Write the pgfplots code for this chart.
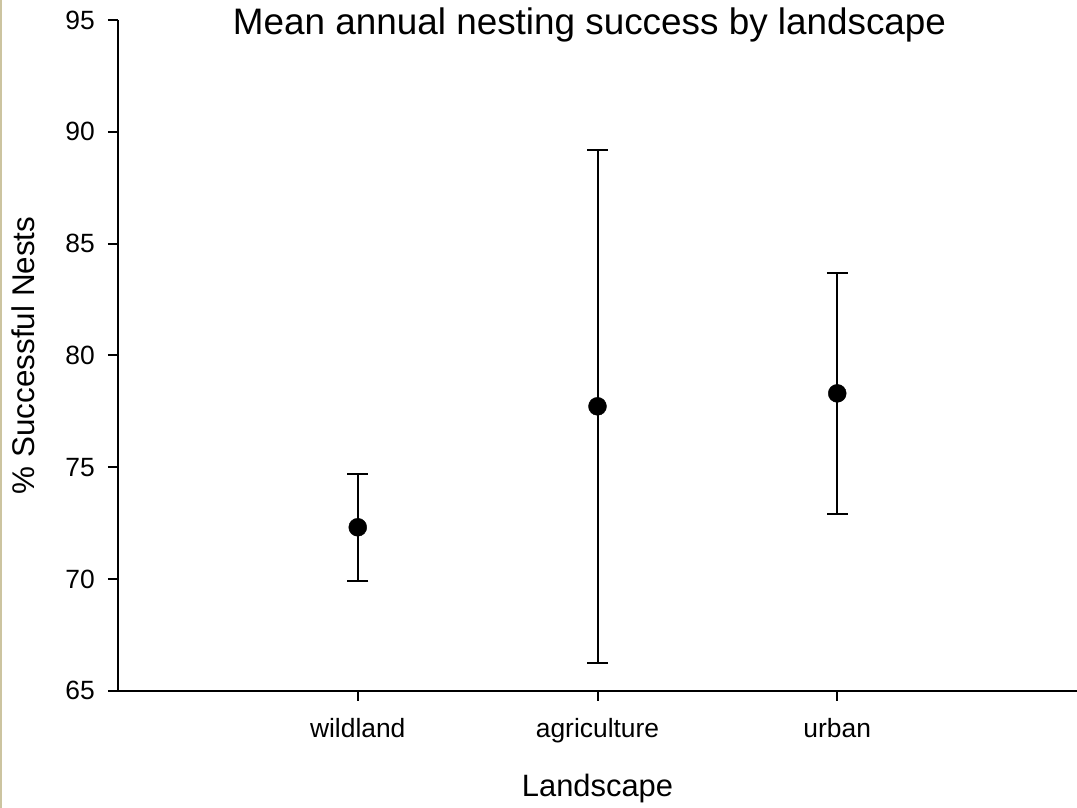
\documentclass[border=0pt]{standalone}
\usepackage{fontspec}
\setmainfont{Liberation Sans}
\usepackage{pgfplots}
\pgfplotsset{compat=1.18}
\definecolor{strip}{RGB}{204,196,160}
\begin{document}
\begin{tikzpicture}
\begin{axis}[
  at={(0,0)}, anchor=south west,
  scale only axis, width=959bp, height=670.7bp,
  xmin=0, xmax=4, ymin=65, ymax=95,
  axis lines=left,
  axis line style={-, line width=2bp, black},
  xtick={1,2,3}, xticklabels={wildland,agriculture,urban},
  ytick={65,70,75,80,85,90,95}, yticklabels={65,70,75,80,85,90,95},
  tick align=outside, major tick length=10bp,
  tick style={line width=2bp, black},
  ticklabel style={font=\fontsize{26.5}{30}\selectfont},
  yticklabel style={anchor=east, inner sep=0pt, xshift=-13bp},
  xticklabel style={anchor=base, inner sep=0pt, yshift=-37bp},
  title={Mean annual nesting success by landscape},
  title style={font=\fontsize{37}{44}\selectfont, at={(axis description cs:0.4917,0.96973)}, anchor=base, inner sep=0pt},
  xlabel={Landscape},
  xlabel style={font=\fontsize{31}{36}\selectfont, at={(axis description cs:0.5,-0.15805)}, anchor=base, inner sep=0pt},
  ylabel={\% Successful Nests},
  ylabel style={font=\fontsize{31.5}{36}\selectfont, at={(axis description cs:-0.08655,0.5)}, anchor=base, inner sep=0pt},
  clip=false,
]
\addplot+[only marks, black, mark=*, mark size=9bp,
  mark options={fill=black, draw=none},
  error bars/.cd, y dir=both, y explicit,
  error bar style={line width=2bp, black},
  error mark options={rotate=90, mark size=10.5bp, line width=2bp, black}]
  coordinates {
    (1,72.31) +- (0,2.40)
    (2,77.72) +- (0,11.48)
    (3,78.30) +- (0,5.39)
  };
\end{axis}
\fill[strip] (-118bp,-117.3bp) rectangle (-115.5bp,690.7bp);
\pgfresetboundingbox
\useasboundingbox (-118bp,-117.3bp) rectangle (959bp,690.7bp);
\end{tikzpicture}
\end{document}
